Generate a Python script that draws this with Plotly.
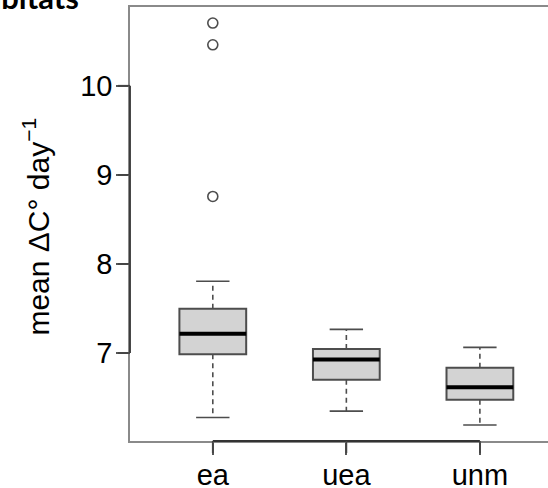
import plotly.graph_objects as go

# ---- data ----
groups = ["ea", "uea", "unm"]
lower_whisker = [6.276, 6.348, 6.193]
q1 = [6.985, 6.700, 6.475]
median = [7.217, 6.928, 6.617]
q3 = [7.498, 7.045, 6.835]
upper_whisker = [7.805, 7.266, 7.063]
outlier_group = ["ea", "ea", "ea"]
outlier_values = [10.704, 10.46, 8.758]
y_ticks = [7, 8, 9, 10]

positions = list(range(1, len(groups) + 1))
pos_of = dict(zip(groups, positions))

BOX_W = 0.5
CAP_W = 0.25
EDGE = "#4d4d4d"
FRAME = "#8a8a8a"
FONT = "Liberation Sans, Arial, sans-serif"
TICK_LEN = 12

fig = go.Figure()

# dashed whiskers
wx, wy = [], []
for p, lo, a, b, hi in zip(positions, lower_whisker, q1, q3, upper_whisker):
    wx += [p, p, None, p, p, None]
    wy += [b, hi, None, a, lo, None]
fig.add_trace(go.Scatter(x=wx, y=wy, mode="lines",
                         line=dict(color=EDGE, width=1.6, dash="5px,4px"),
                         hoverinfo="skip", showlegend=False))
# staples
cx, cy = [], []
for p, lo, hi in zip(positions, lower_whisker, upper_whisker):
    cx += [p - CAP_W / 2, p + CAP_W / 2, None, p - CAP_W / 2, p + CAP_W / 2, None]
    cy += [hi, hi, None, lo, lo, None]
fig.add_trace(go.Scatter(x=cx, y=cy, mode="lines",
                         line=dict(color=EDGE, width=1.6),
                         hoverinfo="skip", showlegend=False))

# boxes
for p, a, m, b in zip(positions, q1, median, q3):
    fig.add_trace(go.Box(x=[p], q1=[a], median=[m], q3=[b],
                         lowerfence=[a], upperfence=[b],
                         width=BOX_W, whiskerwidth=0,
                         fillcolor="#d3d3d3",
                         line=dict(color=EDGE, width=2),
                         hoverinfo="skip", showlegend=False))

# bold medians
mx, my = [], []
for p, m in zip(positions, median):
    mx += [p - BOX_W / 2, p + BOX_W / 2, None]
    my += [m, m, None]
fig.add_trace(go.Scatter(x=mx, y=my, mode="lines",
                         line=dict(color="black", width=4),
                         hoverinfo="skip", showlegend=False))

# outliers
fig.add_trace(go.Scatter(x=[pos_of[g] for g in outlier_group], y=outlier_values,
                         mode="markers",
                         marker=dict(symbol="circle-open", size=10,
                                     color=EDGE, line=dict(width=1.6)),
                         hoverinfo="skip", showlegend=False))

all_vals = lower_whisker + upper_whisker + outlier_values
lo_v, hi_v = min(all_vals), max(all_vals)
ext = 0.04 * (hi_v - lo_v)

fig.update_layout(
    width=548, height=488,
    margin=dict(l=130, r=0, t=7, b=47, autoexpand=False),
    paper_bgcolor="white", plot_bgcolor="white",
    font=dict(family=FONT, color="black", size=28),
    showlegend=False,
    xaxis=dict(range=[0.38, 3.51], tickvals=positions, ticktext=groups,
               ticks="outside", ticklen=TICK_LEN, tickwidth=1.6, tickcolor="#555",
               showline=True, mirror=True, linecolor=FRAME, linewidth=1.6,
               showgrid=False, zeroline=False, automargin=False,
               ticklabelstandoff=-5,
               tickfont=dict(size=29, family=FONT, color="black")),
    yaxis=dict(range=[lo_v - ext, hi_v + ext], tickvals=y_ticks,
               ticks="outside", ticklen=TICK_LEN, tickwidth=1.6, tickcolor="#555",
               showline=True, mirror=False, linecolor=FRAME, linewidth=1.6,
               showgrid=False, zeroline=False, automargin=False,
               ticklabelstandoff=-2,
               tickfont=dict(size=29, family=FONT, color="black")),
)

# darker axis lines spanning the tick range (R style)
fig.add_shape(type="line", xref="paper", yref="y", x0=0, x1=0,
              y0=min(y_ticks), y1=max(y_ticks), line=dict(color="#333", width=1.8))
fig.add_shape(type="line", xref="x", yref="paper", x0=min(positions), x1=max(positions),
              y0=0, y1=0, line=dict(color="#333", width=1.8))
# tick marks
for t in y_ticks:
    fig.add_shape(type="line", xref="paper", yref="y", xsizemode="pixel", xanchor=0,
                  x0=-TICK_LEN, x1=0, y0=t, y1=t, line=dict(color="#444", width=1.8))
for p in positions:
    fig.add_shape(type="line", xref="x", yref="paper", ysizemode="pixel", yanchor=0,
                  x0=p, x1=p, y0=-TICK_LEN, y1=0, line=dict(color="#444", width=1.8))

# y title
fig.add_annotation(text="mean ΔC° day<sup>−1</sup>", textangle=-90,
                   xref="paper", yref="paper", x=-0.225, y=0.494,
                   xanchor="center", yanchor="middle", showarrow=False,
                   font=dict(size=30, family=FONT, color="black"))

# cut-off panel title
fig.add_annotation(text="<b>Habitats</b>", xref="paper", yref="paper",
                   x=-0.117, y=1, xanchor="right", yanchor="bottom",
                   yshift=-11, showarrow=False,
                   font=dict(size=31, family="Lato, Open Sans, sans-serif", color="black"))

fig.write_html("out.html", config={"displayModeBar": False},
               post_script="document.body.style.margin='0';document.body.style.padding='0';")
